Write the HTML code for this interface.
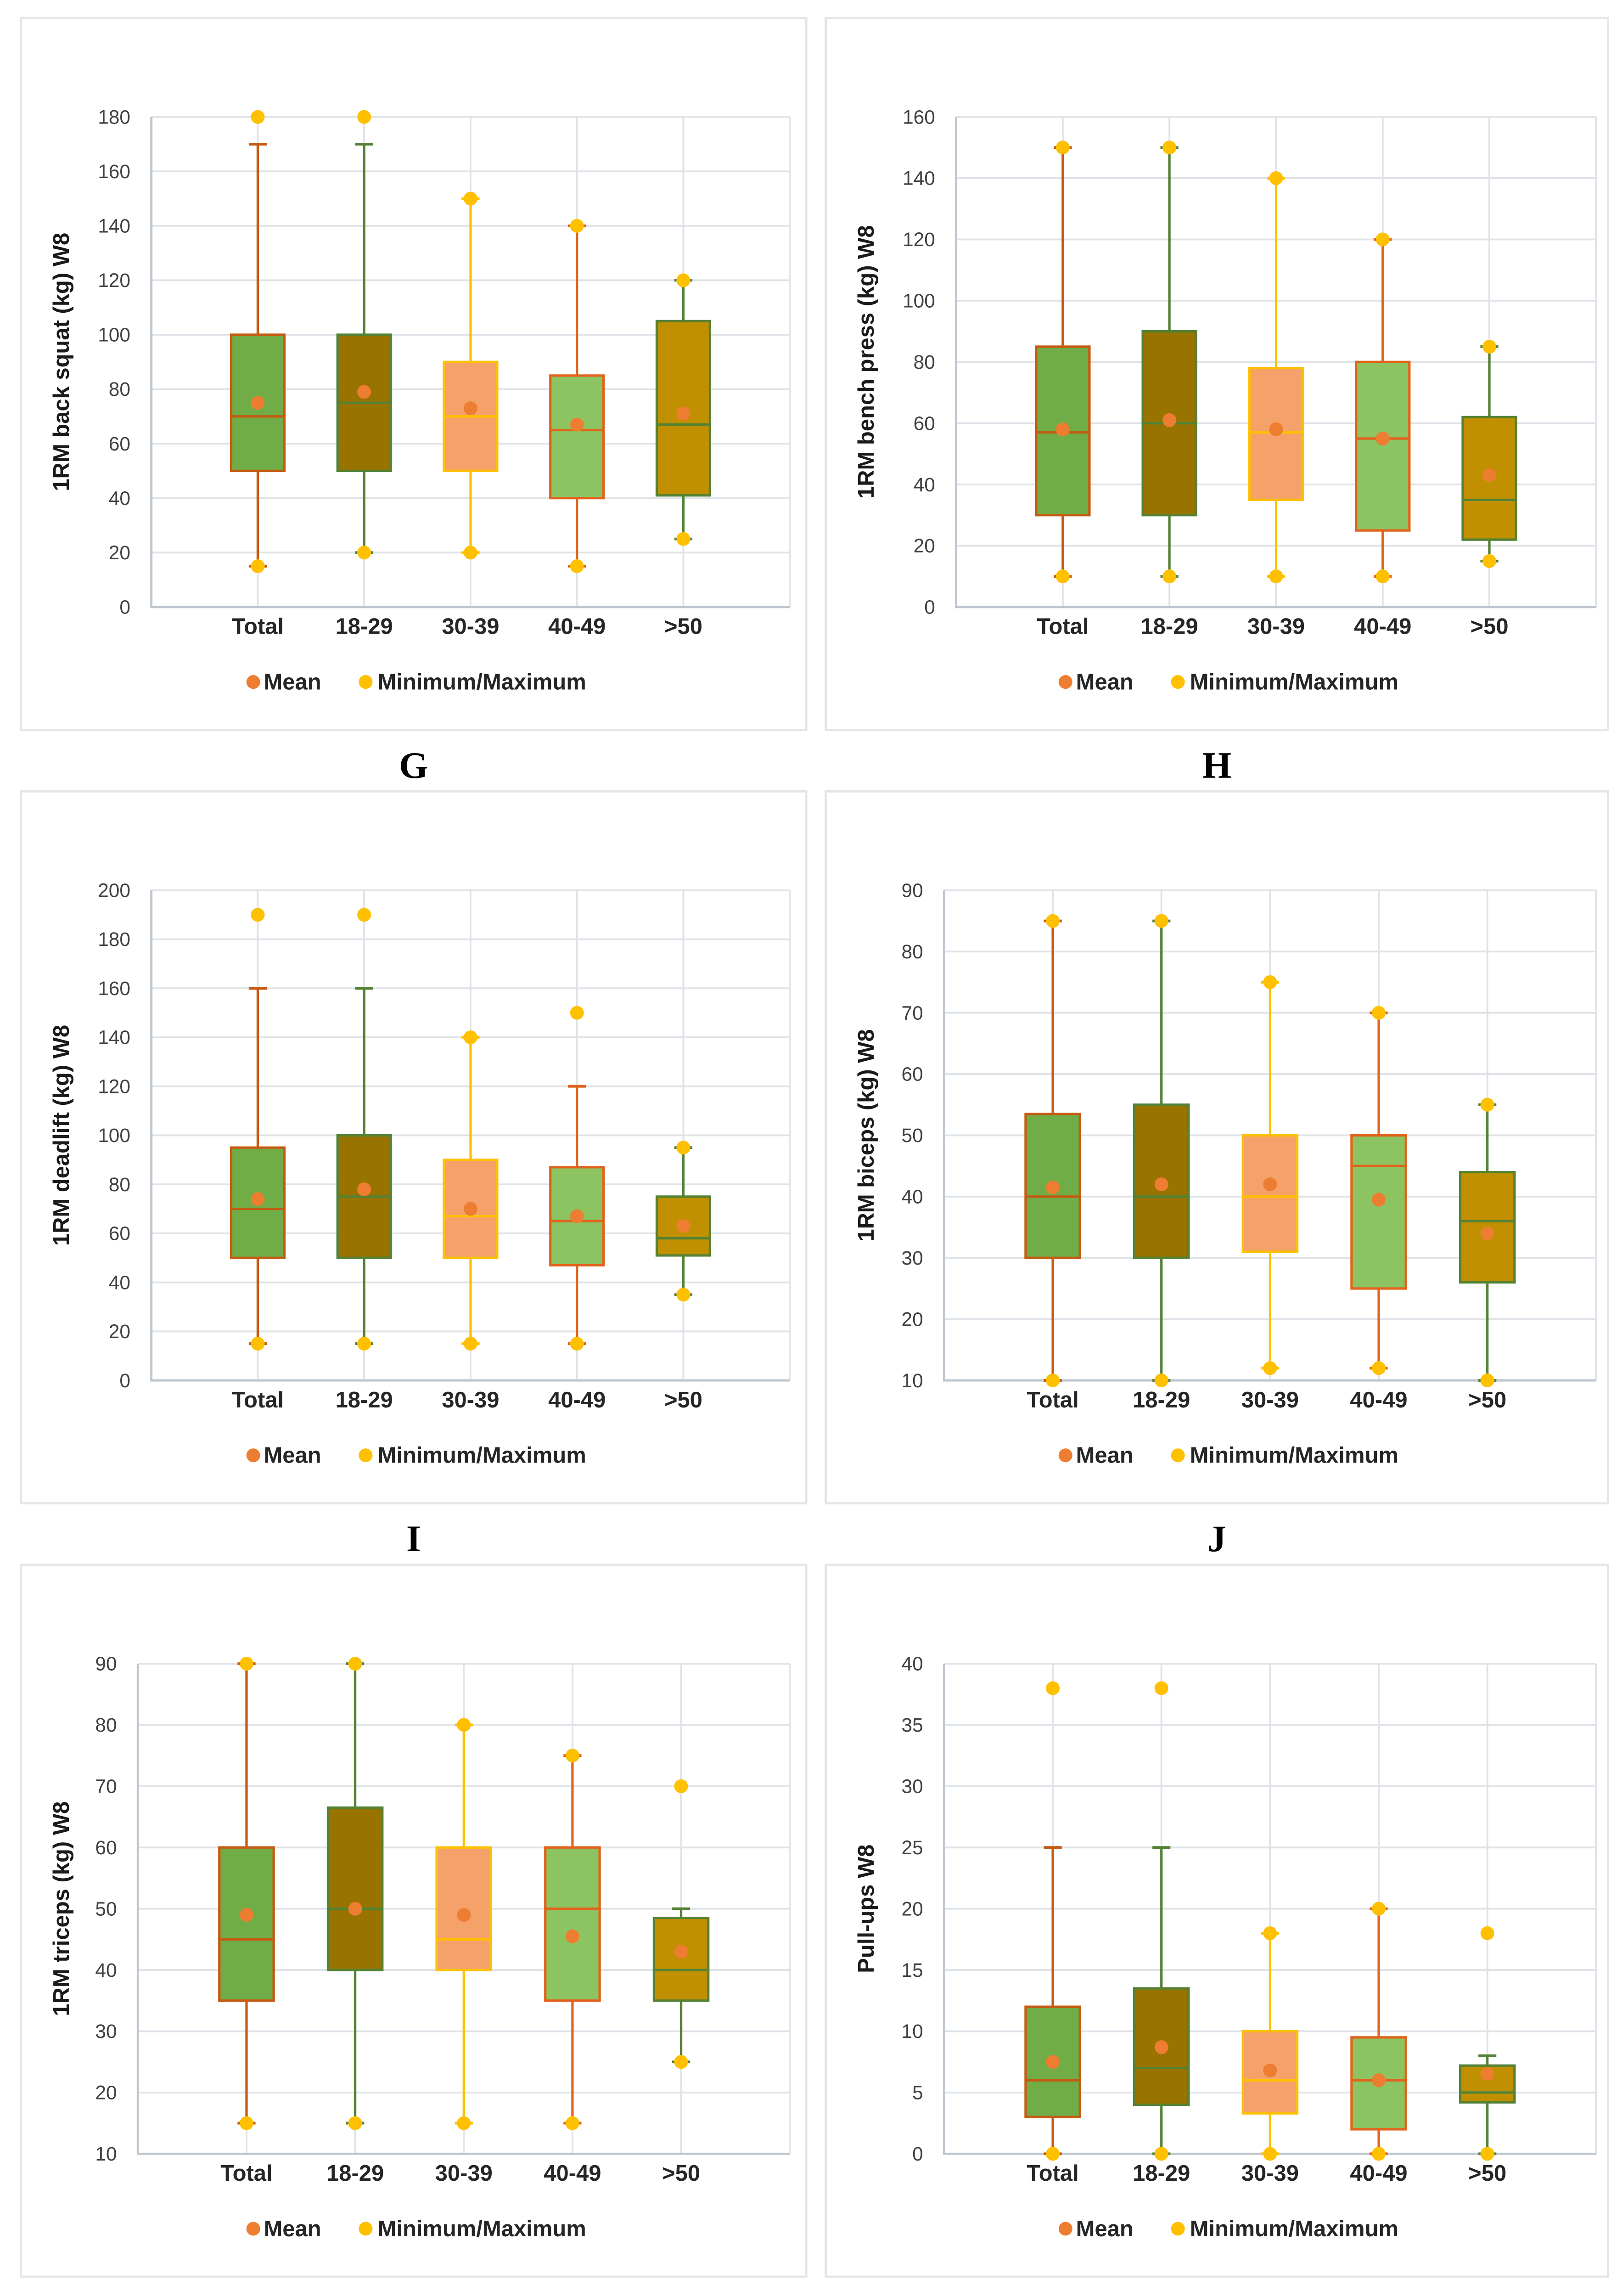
<!DOCTYPE html>
<html><head><meta charset="utf-8">
<style>
html,body{margin:0;padding:0;background:#fff;width:3509px;height:5129px;overflow:hidden;}
svg{display:block;position:absolute;left:0;top:0;}
</style></head>
<body>
<svg id="fig" xmlns="http://www.w3.org/2000/svg" width="3509" height="5129" viewBox="0 0 1075 1571.4" preserveAspectRatio="none"></svg>
<script>
const categories = ["Total","18-29","30-39","40-49",">50"];

const gMin=[15,20,20,15,25], gQ1=[50,50,50,40,41], gMed=[70,75,70,65,67], gQ3=[100,100,90,85,105], gHi=[170,170,150,140,120], gMax=[180,180,150,140,120], gMean=[75,79,73,67,71];
const hMin=[10,10,10,10,15], hQ1=[30,30,35,25,22], hMed=[57,60,57,55,35], hQ3=[85,90,78,80,62], hHi=[150,150,140,120,85], hMax=[150,150,140,120,85], hMean=[58,61,58,55,43];
const iMin=[15,15,15,15,35], iQ1=[50,50,50,47,51], iMed=[70,75,67,65,58], iQ3=[95,100,90,87,75], iHi=[160,160,140,120,95], iMax=[190,190,140,150,95], iMean=[74,78,70,67,63];
const jMin=[10,10,12,12,10], jQ1=[30,30,31,25,26], jMed=[40,40,40,45,36], jQ3=[53.5,55,50,50,44], jHi=[85,85,75,70,55], jMax=[85,85,75,70,55], jMean=[41.5,42,42,39.5,34];
const kMin=[15,15,15,15,25], kQ1=[35,40,40,35,35], kMed=[45,50,45,50,40], kQ3=[60,66.5,60,60,48.5], kHi=[90,90,80,75,50], kMax=[90,90,80,75,70], kMean=[49,50,49,45.5,43];
const lMin=[0,0,0,0,0], lQ1=[3,4,3.3,2,4.2], lMed=[6,7,6,6,5], lQ3=[12,13.5,10,9.5,7.2], lHi=[25,25,18,20,8], lMax=[38,38,18,20,18], lMean=[7.5,8.7,6.8,6,6.5];

const fills=["#70AD47","#997300","#F4A26A","#8DC462","#C09000"];
const strokes=["#C55A11","#548235","#FFC000","#E2621B","#548235"];

const panels=[
 {fx:14,fy:12,fw:524,left:101,right:527,top:78,bottom:405,ymin:0,ymax:180,step:20,title:"1RM back squat (kg) W8",letter:"G",lx:169,d:[gMin,gQ1,gMed,gQ3,gHi,gMax,gMean]},
 {fx:551,fy:12,fw:522,left:638,right:1065,top:78,bottom:405,ymin:0,ymax:160,step:20,title:"1RM bench press (kg) W8",letter:"H",lx:711,d:[hMin,hQ1,hMed,hQ3,hHi,hMax,hMean]},
 {fx:14,fy:528,fw:524,left:101,right:527,top:594,bottom:921,ymin:0,ymax:200,step:20,title:"1RM deadlift (kg) W8",letter:"I",lx:169,d:[iMin,iQ1,iMed,iQ3,iHi,iMax,iMean]},
 {fx:551,fy:528,fw:522,left:630,right:1065,top:594,bottom:921,ymin:10,ymax:90,step:10,title:"1RM biceps (kg) W8",letter:"J",lx:711,d:[jMin,jQ1,jMed,jQ3,jHi,jMax,jMean]},
 {fx:14,fy:1044,fw:524,left:92,right:527,top:1110,bottom:1437,ymin:10,ymax:90,step:10,title:"1RM triceps (kg) W8",letter:"K",lx:169,d:[kMin,kQ1,kMed,kQ3,kHi,kMax,kMean]},
 {fx:551,fy:1044,fw:522,left:630,right:1065,top:1110,bottom:1437,ymin:0,ymax:40,step:5,title:"Pull-ups W8",letter:"L",lx:711,d:[lMin,lQ1,lMed,lQ3,lHi,lMax,lMean]}
];

const NS="http://www.w3.org/2000/svg";
const svg=document.getElementById("fig");
function mk(parent,tag,attrs,text){
  const e=document.createElementNS(NS,tag);
  for(const k in attrs) e.setAttribute(k,attrs[k]);
  if(text!==undefined) e.textContent=text;
  parent.appendChild(e);
  return e;
}

panels.forEach(p=>{
  const g=mk(svg,"g",{});
  
  
  const frame=mk(g,"rect",{x:p.fx,y:p.fy,width:p.fw,height:475,fill:"#fff",stroke:"#e6e6e6","stroke-width":1.5});
  
  
  const slot=(p.right-p.left)/6;
  const yS=v=>p.bottom-(v-p.ymin)/(p.ymax-p.ymin)*(p.bottom-p.top);
  const xS=i=>p.left+slot*(i+1);
  for(let v=p.ymin;v<=p.ymax+1e-9;v+=p.step){
    const gl=mk(g,"line",{x1:p.left,x2:p.right,y1:yS(v),y2:yS(v),stroke:"#dfe3e8","stroke-width":1.2});
    
    
    const t=mk(g,"text",{x:p.left-14,y:yS(v)+4.5,"text-anchor":"end","font-family":"Liberation Sans, sans-serif","font-size":13,fill:"#404040"},String(v));
    
    
  }
  for(let i=0;i<6;i++){
    const gl=mk(g,"line",{x1:xS(i),x2:xS(i),y1:p.top,y2:p.bottom,stroke:"#dfe3e8","stroke-width":1.2});
    
    
  }
  const ax=mk(g,"path",{d:`M${p.left},${p.top}V${p.bottom}H${p.right}`,fill:"none",stroke:"#bfc6cf","stroke-width":1.5});
  
  
  const [mn,q1,md,q3,hi,mx,mean]=p.d;
  const bw=slot*0.5;
  categories.forEach((c,i)=>{
    const x=xS(i), col=strokes[i];
    const wh=mk(g,"line",{x1:x,x2:x,y1:yS(mn[i]),y2:yS(hi[i]),stroke:col,"stroke-width":1.6});
    
    
    [mn[i],hi[i]].forEach(v=>{
      const cap=mk(g,"line",{x1:x-6,x2:x+6,y1:yS(v),y2:yS(v),stroke:col,"stroke-width":1.8});
      
      
    });
    const box=mk(g,"rect",{x:x-bw/2,y:yS(q3[i]),width:bw,height:yS(q1[i])-yS(q3[i]),fill:fills[i],stroke:col,"stroke-width":1.6});
    
    
    const med=mk(g,"line",{x1:x-bw/2,x2:x+bw/2,y1:yS(md[i]),y2:yS(md[i]),stroke:col,"stroke-width":1.6});
    
    
    const me=mk(g,"circle",{cx:x,cy:yS(mean[i]),r:4.6,fill:"#ED7D31"});
    
    
    [mn[i],mx[i]].forEach(v=>{
      const mp=mk(g,"circle",{cx:x,cy:yS(v),r:4.6,fill:"#FFC000"});
      
      
    });
    const cl=mk(g,"text",{x:x,y:p.bottom+18,"text-anchor":"middle","font-family":"Liberation Sans, sans-serif","font-size":15,"font-weight":"bold",fill:"#262626"},c);
    
    
  });
  const tx=p.fx+32, ty=(p.top+p.bottom)/2;
  const yt=mk(g,"text",{x:tx,y:ty,transform:`rotate(-90 ${tx} ${ty})`,"text-anchor":"middle","font-family":"Liberation Sans, sans-serif","font-size":15,"font-weight":"bold",fill:"#1a1a1a"},p.title);
  
  
  const ly=p.fy+448;
  const l1=mk(g,"circle",{cx:p.lx,cy:ly-5,r:4.6,fill:"#ED7D31"});
  
  
  const lt1=mk(g,"text",{x:p.lx+7,y:ly,"font-family":"Liberation Sans, sans-serif","font-size":15,"font-weight":"bold",fill:"#262626"},"Mean");
  
  
  const l2=mk(g,"circle",{cx:p.lx+75,cy:ly-5,r:4.6,fill:"#FFC000"});
  
  
  const lt2=mk(g,"text",{x:p.lx+83,y:ly,"font-family":"Liberation Sans, sans-serif","font-size":15,"font-weight":"bold",fill:"#262626"},"Minimum/Maximum");
  
  
  const lt=mk(g,"text",{x:p.fx+p.fw/2,y:p.fy+507,"text-anchor":"middle","font-family":"Liberation Serif, serif","font-size":25,"font-weight":"bold",fill:"#000"},p.letter);
  
  
});
</script>
</body></html>
